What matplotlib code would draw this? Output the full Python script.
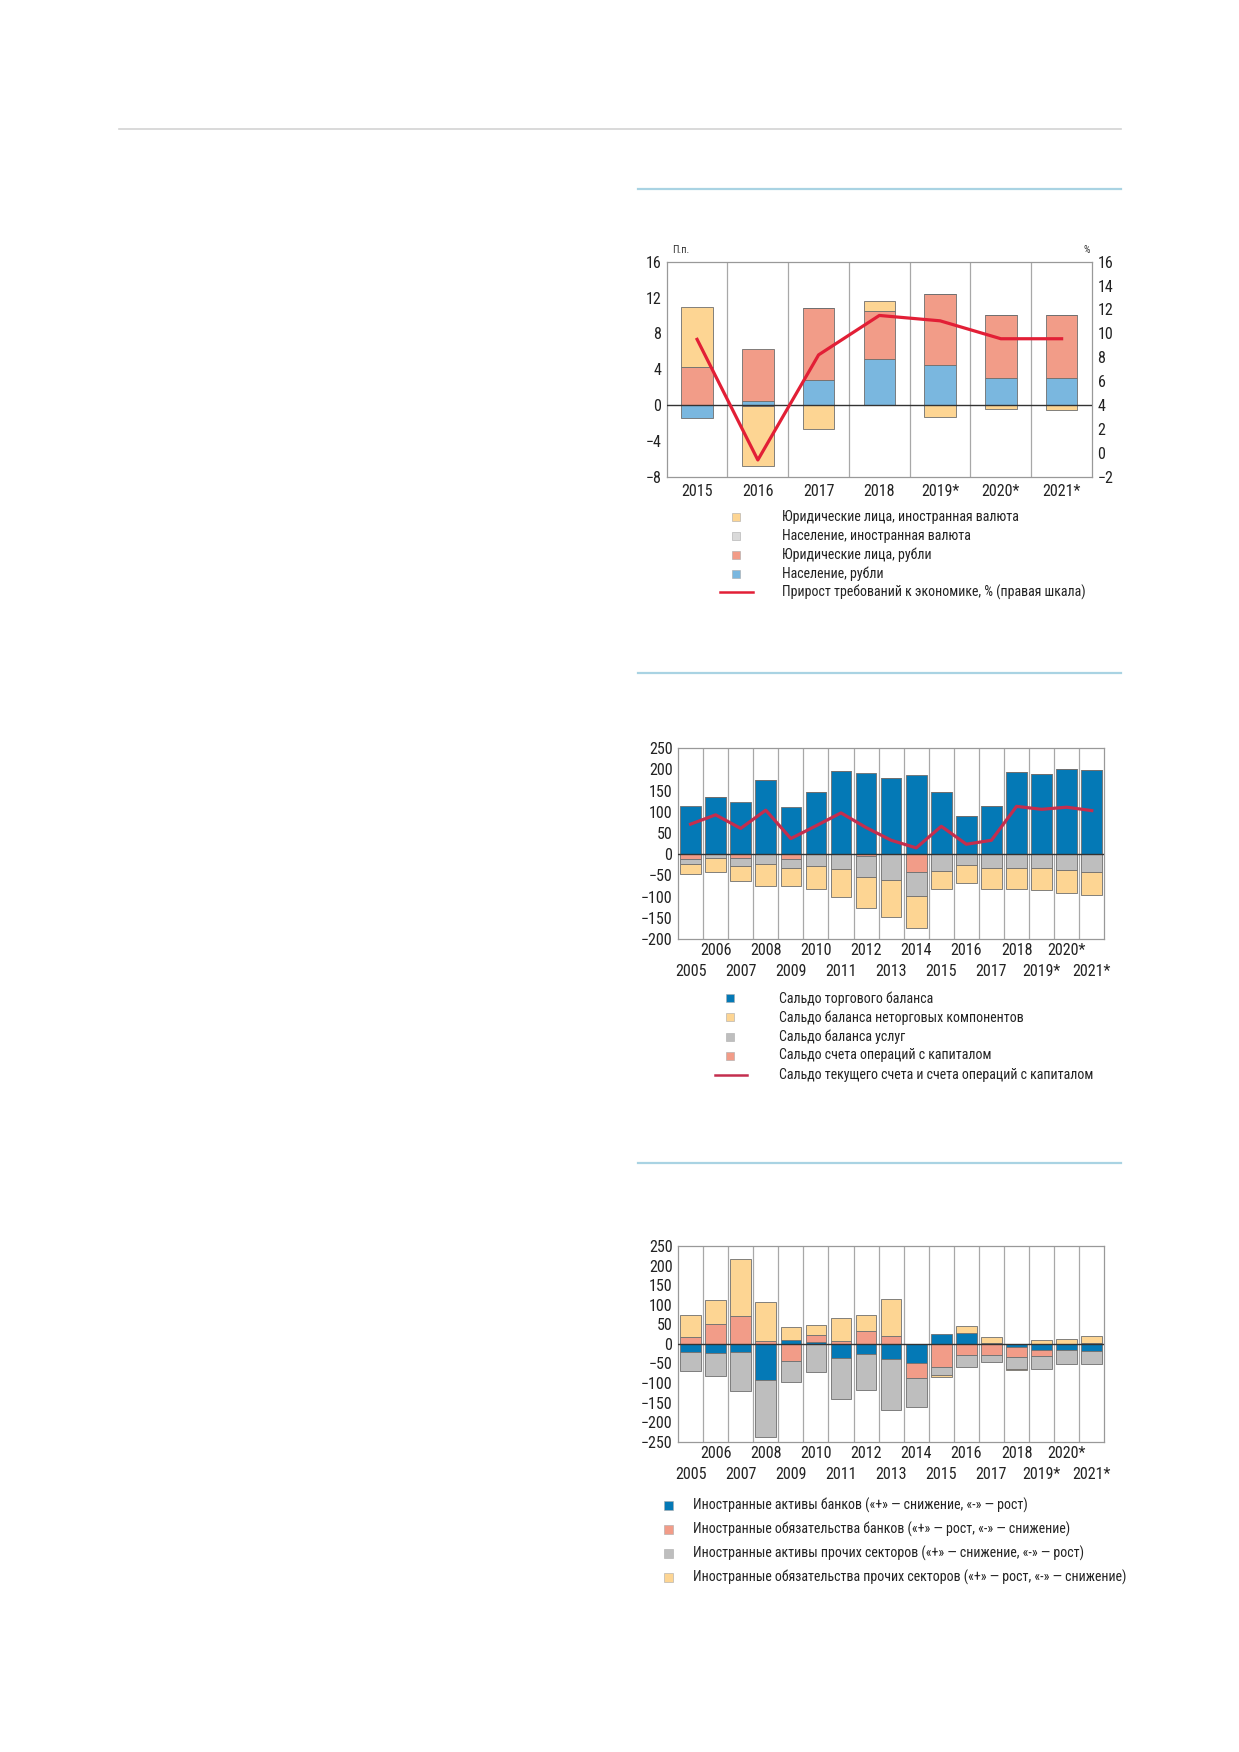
import numpy as np
import matplotlib
matplotlib.use('Agg')
import matplotlib.pyplot as plt
from matplotlib.patches import Rectangle
from matplotlib.lines import Line2D

# narrow faces first, whatever is missing gets skipped
plt.rcParams['font.family'] = ['Roboto Condensed', 'DejaVu Sans Condensed', 'Roboto', 'DejaVu Sans']

W, H = 1239, 1752

# --- chart 1: claims on economy, p.p. contributions
years1 = ['2015', '2016', '2017', '2018', '2019*', '2020*', '2021*']
hh_rub = [-1.45, 0.45, 2.8, 5.1, 4.45, 3.05, 3.0]
corp_rub = [4.3, 5.85, 8.0, 5.35, 7.9, 6.95, 7.1]
hh_fx = [0, -0.15, 0, 0, 0, 0, 0]
corp_fx = [6.6, -6.65, -2.7, 1.15, -1.35, -0.45, -0.6]
credit_growth = [9.5, -0.6, 8.2, 11.5, 11.05, 9.55, 9.55]
labels1 = ['Юридические лица, иностранная валюта',
           'Население, иностранная валюта',
           'Юридические лица, рубли',
           'Население, рубли',
           'Прирост требований к экономике, % (правая шкала)']

# --- chart 2: current account
years2 = ['2005', '2006', '2007', '2008', '2009', '2010', '2011', '2012', '2013',
          '2014', '2015', '2016', '2017', '2018', '2019*', '2020*', '2021*']
trade = [115, 134, 123, 176, 112, 146, 196, 191, 180, 188, 148, 90, 115, 194, 190, 202, 198]
capital = [-12, 0, -9.5, 0, -12, 0, 0, -4, 0, -43, 0, 0, 0, 0, 0, 0, 0]
services = [-12, -10, -18, -22, -19.5, -27, -34, -49, -60, -54.6, -38.5, -25, -31.5,
            -31.5, -31.5, -36, -41]
nontrade = [-21.6, -33, -34.5, -52, -44.5, -54, -66, -73, -88, -75.4, -43.5, -42, -51.5,
            -51, -52.5, -55, -55]
ca_total = [71, 93, 61, 104, 37, 67, 97.6, 63, 33, 15, 66, 23.6, 33, 113, 106, 111, 103]
labels2 = ['Сальдо торгового баланса',
           'Сальдо баланса неторговых компонентов',
           'Сальдо баланса услуг',
           'Сальдо счета операций с капиталом',
           'Сальдо текущего счета и счета операций с капиталом']

# --- chart 3: private sector financial account
bank_assets = [-22, -23, -20, -93, 9.3, 5, -35.6, -25.4, -39, -49, 25.4, 28, 3, -8.5,
               -15.3, -16, -17]
bank_liab = [18, 51, 71, 7.6, -43, 18, 7.6, 33, 20, -37.4, -60, -28, -28, -24.5,
             -15.2, 0, 2]
other_assets = [-46.6, -58.4, -99.5, -146, -53.6, -71, -106.5, -93, -128.8, -73.7,
                -19.5, -30.5, -18, -30, -33, -35, -34]
other_liab = [56, 61, 145, 99, 34, 25, 58.5, 40, 94, 0, -6, 18, 15.5, -4.5, 10.2, 12.7, 18]
labels3 = ['Иностранные активы банков («+» — снижение, «-» — рост)',
           'Иностранные обязательства банков («+» — рост, «-» — снижение)',
           'Иностранные активы прочих секторов («+» — снижение, «-» — рост)',
           'Иностранные обязательства прочих секторов («+» — рост, «-» — снижение)']

YEL = '#fdd593'
SAL = '#f29c88'
LGRAY = '#dadada'
LBLUE = '#7ab7df'
DBLUE = '#0479b6'
GRAY = '#bebebe'
RED1 = '#e21f36'
RED2 = '#c42e4e'
EDGE = '#6e6e6e'
GRID = '#a8a8a8'

TICK_FS = 11.5
LEG_FS = 10


def rect(l, t, r, b):
    return [l / W, 1 - b / H, (r - l) / W, (b - t) / H]


def hline(fig, x0, x1, y, color, lw):
    fig.add_artist(Line2D([x0 / W, x1 / W], [1 - y / H] * 2, color=color, lw=lw))


def stack(ax, x, series, colors, width):
    pos = np.zeros(len(x))
    neg = np.zeros(len(x))
    for vals, c in zip(series, colors):
        v = np.asarray(vals, float)
        base = np.where(v >= 0, pos, neg)
        ax.bar(x, v, width, bottom=base, color=c, edgecolor=EDGE, linewidth=0.6, zorder=2)
        pos += np.clip(v, 0, None)
        neg += np.clip(v, None, 0)


def frame(ax, n):
    ax.set_xlim(-0.5, n - 0.5)
    for i in range(n - 1):
        ax.axvline(i + 0.5, color=GRID, lw=0.9, zorder=1)
    ax.axhline(0, color='#333333', lw=1.0, zorder=3)
    for s in ax.spines.values():
        s.set_color('#999999')
        s.set_linewidth(0.9)
    ax.tick_params(length=0, labelsize=TICK_FS, colors='#222222', pad=4)


def legend(fig, x_sq, x_txt, ys, labels, colors, line_color=None, line_x=None, sq=8):
    for i, (lab, y) in enumerate(zip(labels, ys)):
        if line_color is not None and i == len(labels) - 1:
            fig.add_artist(Line2D([line_x[0] / W, line_x[1] / W], [1 - y / H] * 2,
                                  color=line_color, lw=1.8))
        else:
            fig.add_artist(Rectangle(((x_sq - sq / 2) / W, 1 - (y + sq / 2) / H), sq / W, sq / H,
                                     facecolor=colors[i], edgecolor='#aaaaaa', lw=0.4,
                                     transform=fig.transFigure))
        fig.text(x_txt / W, 1 - y / H, lab, fontsize=LEG_FS, va='center', ha='left',
                 color='#222222')


fig = plt.figure(figsize=(W / 100, H / 100), dpi=100)

# page rules
hline(fig, 118.6, 1120.5, 129.3, '#d3d3d3', 1.2)
hline(fig, 638, 1121, 189, '#a9d3e3', 1.6)
hline(fig, 638, 1121, 673, '#a9d3e3', 1.6)
hline(fig, 638, 1121, 1162.7, '#a9d3e3', 1.6)

# chart 1
ax1 = fig.add_axes(rect(666.7, 261.7, 1092, 476.7))
x1 = np.arange(len(years1))
stack(ax1, x1, [hh_rub, corp_rub, hh_fx, corp_fx], [LBLUE, SAL, LGRAY, YEL], 0.52)
frame(ax1, len(years1))
ax1.set_ylim(-8, 16)
ax1.set_yticks(np.arange(-8, 17, 4))
ax1.set_xticks(x1, years1)
ax1.tick_params(axis='x', pad=5)
ax1r = ax1.twinx()
ax1r.plot(x1, credit_growth, color=RED1, lw=2.3, zorder=5)
ax1r.set_ylim(-2, 16)
ax1r.set_yticks(np.arange(-2, 17, 2))
ax1r.tick_params(length=0, labelsize=TICK_FS, colors='#222222', pad=4)
for s in ax1r.spines.values():
    s.set_visible(False)
fig.text(672 / W, 1 - 250.5 / H, 'П.п.', fontsize=7.5, ha='left', va='center', color='#333333')
fig.text(1090 / W, 1 - 250.5 / H, '%', fontsize=7.5, ha='right', va='center', color='#333333')
legend(fig, 735.7, 781.7, [517, 536, 555, 574, 592.3], labels1,
       [YEL, LGRAY, SAL, LBLUE], line_color=RED1, line_x=(720, 752.7))


def two_row_years(ax, years):
    x = np.arange(len(years))
    ax.set_xticks(x[1::2], years[1::2])
    ax.set_xticks(x[0::2], years[0::2], minor=True)
    ax.tick_params(axis='x', which='major', pad=3)
    ax.tick_params(axis='x', which='minor', pad=18, length=0, labelsize=TICK_FS,
                   colors='#222222')


# chart 2
ax2 = fig.add_axes(rect(678, 748.3, 1104.3, 939))
x2 = np.arange(len(years2))
stack(ax2, x2, [trade, capital, services, nontrade], [DBLUE, SAL, GRAY, YEL], 0.82)
ax2.plot(x2, ca_total, color=RED2, lw=2.3, zorder=5)
frame(ax2, len(years2))
ax2.set_ylim(-200, 250)
ax2.set_yticks(np.arange(-200, 251, 50))
two_row_years(ax2, years2)
legend(fig, 730, 779, [998.3, 1017.3, 1036.5, 1055.5, 1075], labels2,
       [DBLUE, YEL, GRAY, SAL], line_color=RED2, line_x=(715, 746.7))

# chart 3
ax3 = fig.add_axes(rect(678, 1246, 1104.3, 1441.7))
stack(ax3, x2, [bank_assets, bank_liab, other_assets, other_liab], [DBLUE, SAL, GRAY, YEL], 0.82)
frame(ax3, len(years2))
ax3.set_ylim(-250, 250)
ax3.set_yticks(np.arange(-250, 251, 50))
two_row_years(ax3, years2)
legend(fig, 668, 692.7, [1505.7, 1529.6, 1553.5, 1577.4], labels3,
       [DBLUE, SAL, GRAY, YEL], sq=9)

fig.savefig('out.png', dpi=100)
